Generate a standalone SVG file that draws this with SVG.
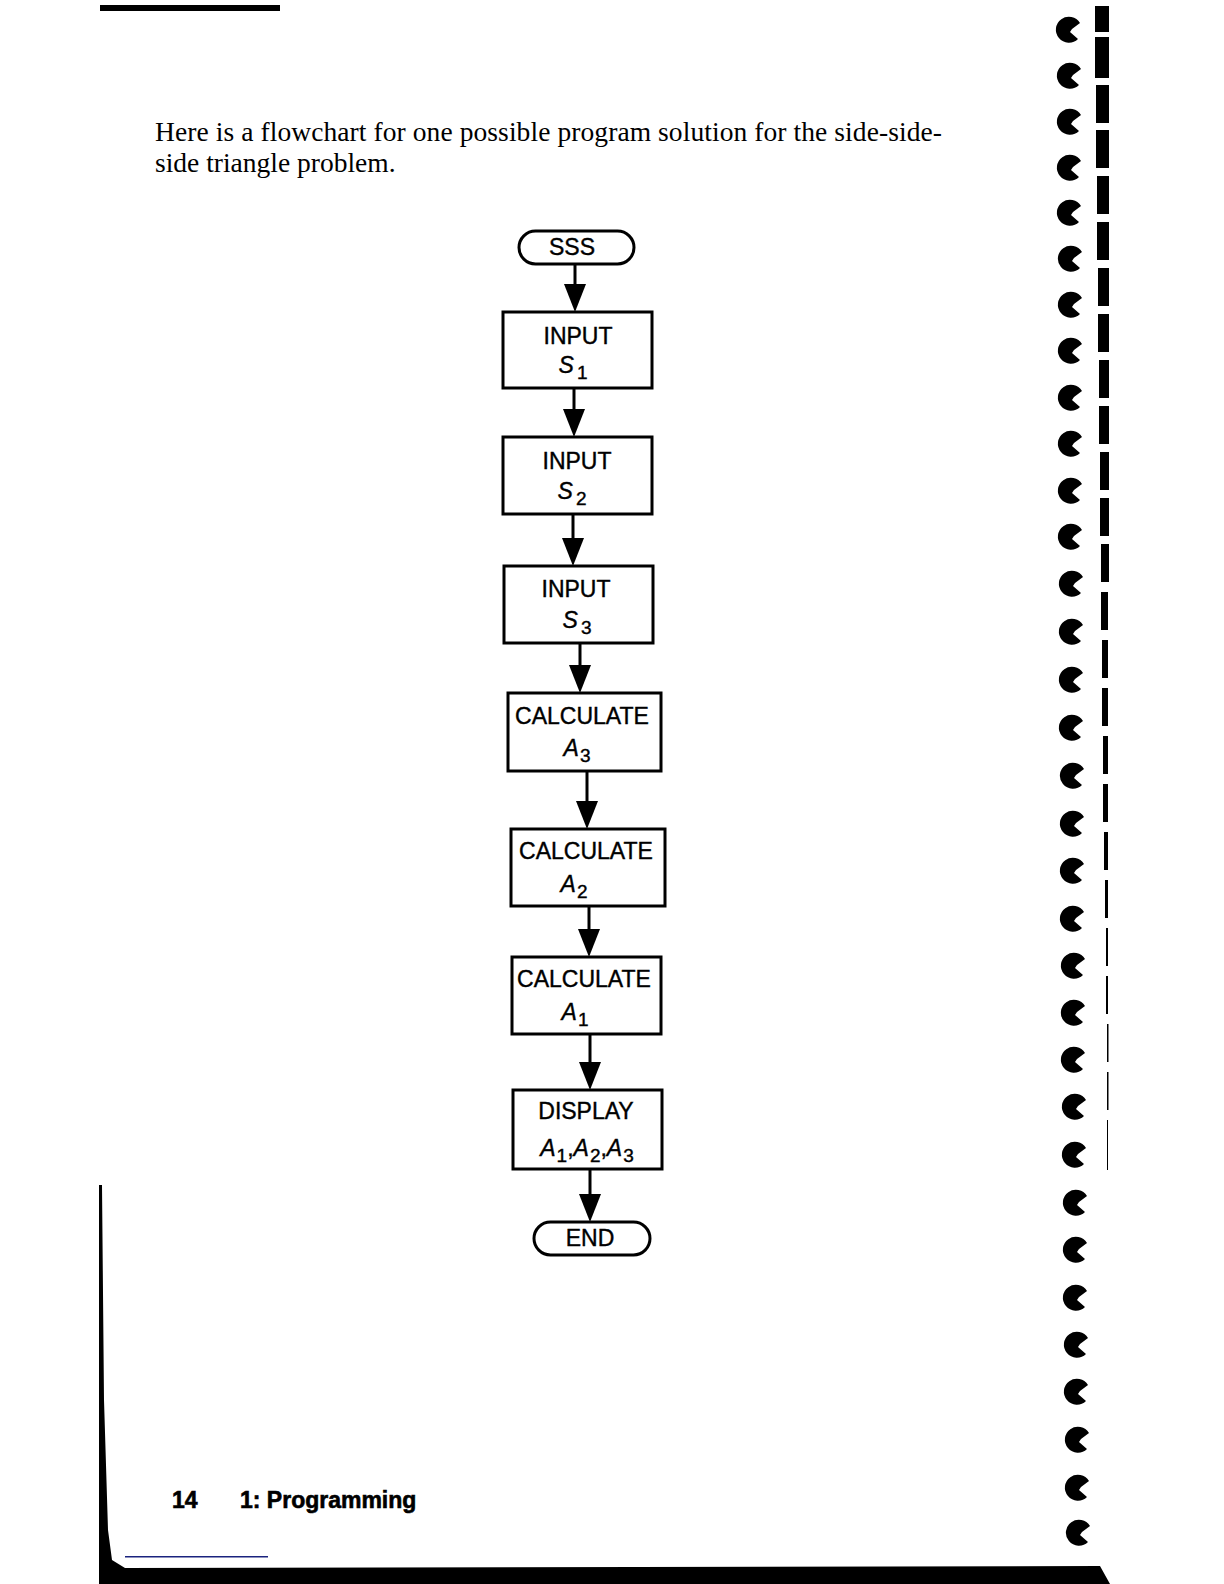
<svg xmlns="http://www.w3.org/2000/svg" width="1224" height="1584" viewBox="0 0 1224 1584">
<style>
.box{fill:#fff;stroke:#000;stroke-width:3}
.term{fill:#fff;stroke:#000;stroke-width:3}
.lbl{font-family:"Liberation Sans",Arial,sans-serif;font-size:23px;fill:#000;stroke:#000;stroke-width:0.4;text-anchor:middle}
.it{font-style:italic}
.sub{font-size:19px;font-style:normal}
.body{font-family:"Liberation Serif","Times New Roman",serif;font-size:27.5px;fill:#000}
.foot{font-family:"Liberation Sans",Arial,sans-serif;font-size:23px;font-weight:bold;fill:#000;stroke:#000;stroke-width:0.6}
.conn line{stroke:#000;stroke-width:3}
.conn polygon{fill:#000}
</style>
<defs>
<path id="hook" d="M 10,7 A 13 13 0 1 1 12,-9 L 4,-3 L 2,0 Z" fill="#000"/>
</defs>
<rect x="0" y="0" width="1224" height="1584" fill="#fff"/>
<g id="scan-edges">
<rect x="100" y="5" width="180" height="6" fill="#000"/>
<path d="M 99,1185 L 102,1185 L 104,1400 L 108,1530 L 112,1560 L 125,1568 L 1100,1566 L 1110,1584 L 99,1584 Z" fill="#000"/>
<rect x="125" y="1556" width="143" height="1.5" fill="#1a237e"/>
<g fill="#000">
<rect x="1095" y="6" width="14" height="26"/>
<rect x="1095" y="37" width="14" height="41"/>
<rect x="1096" y="85" width="13" height="38"/>
<rect x="1096" y="130" width="13" height="38"/>
<rect x="1097" y="176" width="12" height="38"/>
<rect x="1097" y="222" width="12" height="38"/>
<rect x="1098" y="268" width="11" height="38"/>
<rect x="1098" y="314" width="11" height="38"/>
<rect x="1099" y="360" width="10" height="38"/>
<rect x="1099" y="406" width="10" height="38"/>
<rect x="1100" y="452" width="9" height="38"/>
<rect x="1100" y="498" width="9" height="38"/>
<rect x="1101" y="544" width="8" height="38"/>
<rect x="1101" y="592" width="7" height="38"/>
<rect x="1102" y="640" width="6" height="38"/>
<rect x="1102" y="688" width="6" height="38"/>
<rect x="1103" y="736" width="5" height="38"/>
<rect x="1103" y="784" width="5" height="38"/>
<rect x="1104" y="832" width="4" height="38"/>
<rect x="1105" y="880" width="3" height="38"/>
<rect x="1106" y="928" width="2" height="38"/>
<rect x="1106" y="976" width="2" height="38"/>
<rect x="1107" y="1024" width="1.5" height="38"/>
<rect x="1107" y="1072" width="1.5" height="38"/>
<rect x="1107" y="1120" width="1" height="50"/>
</g>
<use href="#hook" x="1068" y="32"/>
<use href="#hook" x="1069" y="78"/>
<use href="#hook" x="1069" y="124"/>
<use href="#hook" x="1069" y="170"/>
<use href="#hook" x="1069" y="215"/>
<use href="#hook" x="1070" y="261"/>
<use href="#hook" x="1070" y="307"/>
<use href="#hook" x="1070" y="353"/>
<use href="#hook" x="1070" y="400"/>
<use href="#hook" x="1070" y="446"/>
<use href="#hook" x="1070" y="493"/>
<use href="#hook" x="1070" y="539"/>
<use href="#hook" x="1071" y="586"/>
<use href="#hook" x="1071" y="634"/>
<use href="#hook" x="1071" y="682"/>
<use href="#hook" x="1071" y="730"/>
<use href="#hook" x="1072" y="778"/>
<use href="#hook" x="1072" y="826"/>
<use href="#hook" x="1072" y="873"/>
<use href="#hook" x="1072" y="921"/>
<use href="#hook" x="1073" y="968"/>
<use href="#hook" x="1073" y="1015"/>
<use href="#hook" x="1073" y="1062"/>
<use href="#hook" x="1074" y="1109"/>
<use href="#hook" x="1074" y="1157"/>
<use href="#hook" x="1075" y="1205"/>
<use href="#hook" x="1075" y="1252"/>
<use href="#hook" x="1075" y="1300"/>
<use href="#hook" x="1076" y="1347"/>
<use href="#hook" x="1076" y="1394"/>
<use href="#hook" x="1077" y="1442"/>
<use href="#hook" x="1077" y="1490"/>
<use href="#hook" x="1078" y="1535"/>
</g>
<g id="intro">
<text class="body" x="155" y="141" textLength="787" lengthAdjust="spacing">Here is a flowchart for one possible program solution for the side-side-</text>
<text class="body" x="155" y="172">side triangle problem.</text>
</g>
<g id="connectors" class="conn">
<line x1="575" y1="264" x2="575" y2="290"/><polygon points="564,284 586,284 575,312"/>
<line x1="574" y1="388" x2="574" y2="415"/><polygon points="563,409 585,409 574,437"/>
<line x1="573" y1="514" x2="573" y2="544"/><polygon points="562,538 584,538 573,566"/>
<line x1="580" y1="643" x2="580" y2="671"/><polygon points="569,665 591,665 580,693"/>
<line x1="587" y1="771" x2="587" y2="807"/><polygon points="576,801 598,801 587,829"/>
<line x1="589" y1="906" x2="589" y2="935"/><polygon points="578,929 600,929 589,957"/>
<line x1="590" y1="1034" x2="590" y2="1068"/><polygon points="579,1062 601,1062 590,1090"/>
<line x1="590" y1="1169" x2="590" y2="1200"/><polygon points="579,1194 601,1194 590,1222"/>
</g>
<g id="sss">
<rect class="term" x="519" y="231" width="115" height="33" rx="16.5"/>
<text class="lbl" x="572" y="255">SSS</text>
</g>
<g id="input-s1">
<rect class="box" x="503" y="312" width="149" height="76"/>
<text class="lbl" x="578" y="344">INPUT</text>
<text class="lbl" x="573" y="373"><tspan class="it">S</tspan><tspan class="sub" dx="3" dy="6">1</tspan></text>
</g>
<g id="input-s2">
<rect class="box" x="503" y="437" width="149" height="77"/>
<text class="lbl" x="577" y="469">INPUT</text>
<text class="lbl" x="572" y="499"><tspan class="it">S</tspan><tspan class="sub" dx="3" dy="6">2</tspan></text>
</g>
<g id="input-s3">
<rect class="box" x="504" y="566" width="149" height="77"/>
<text class="lbl" x="576" y="597">INPUT</text>
<text class="lbl" x="577" y="628"><tspan class="it">S</tspan><tspan class="sub" dx="3" dy="6">3</tspan></text>
</g>
<g id="calc-a3">
<rect class="box" x="508" y="693" width="153" height="78"/>
<text class="lbl" x="582" y="724">CALCULATE</text>
<text class="lbl" x="577" y="756"><tspan class="it">A</tspan><tspan class="sub" dx="1" dy="6">3</tspan></text>
</g>
<g id="calc-a2">
<rect class="box" x="511" y="829" width="154" height="77"/>
<text class="lbl" x="586" y="859">CALCULATE</text>
<text class="lbl" x="574" y="892"><tspan class="it">A</tspan><tspan class="sub" dx="1" dy="6">2</tspan></text>
</g>
<g id="calc-a1">
<rect class="box" x="512" y="957" width="149" height="77"/>
<text class="lbl" x="584" y="987">CALCULATE</text>
<text class="lbl" x="575" y="1020"><tspan class="it">A</tspan><tspan class="sub" dx="1" dy="6">1</tspan></text>
</g>
<g id="display">
<rect class="box" x="513" y="1090" width="149" height="79"/>
<text class="lbl" x="586" y="1119">DISPLAY</text>
<text class="lbl" x="587" y="1156"><tspan class="it">A</tspan><tspan class="sub" dx="1" dy="6">1</tspan><tspan dy="-6">,</tspan><tspan class="it">A</tspan><tspan class="sub" dx="1" dy="6">2</tspan><tspan dy="-6">,</tspan><tspan class="it">A</tspan><tspan class="sub" dx="1" dy="6">3</tspan></text>
</g>
<g id="end">
<rect class="term" x="534" y="1222" width="116" height="33" rx="16.5"/>
<text class="lbl" x="590" y="1246">END</text>
</g>
<g id="footer">
<text class="foot" x="172" y="1508">14</text>
<text class="foot" x="240" y="1508">1: Programming</text>
</g>
</svg>
